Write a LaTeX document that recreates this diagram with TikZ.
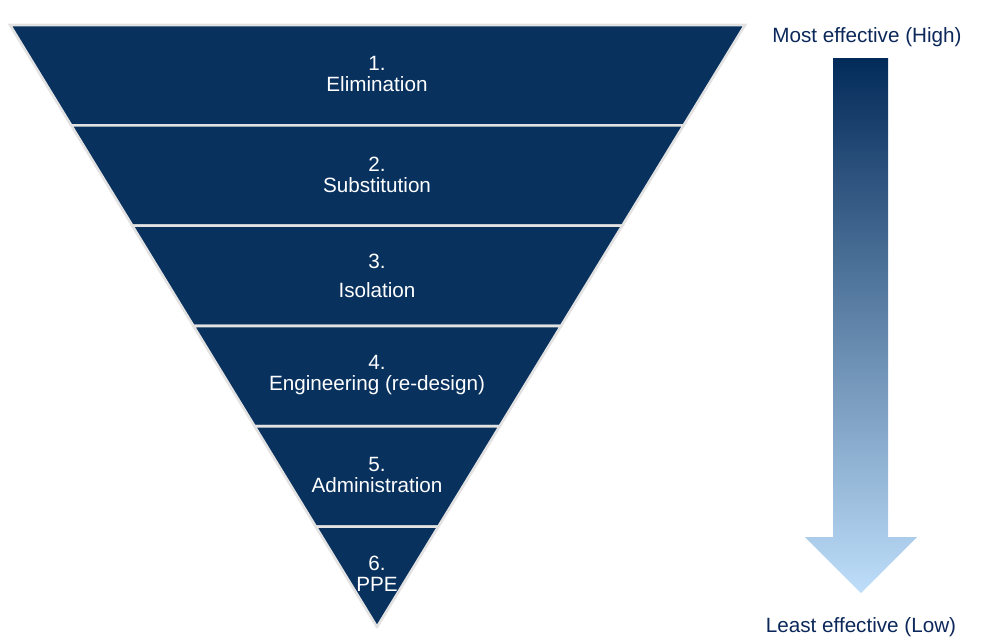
\documentclass[tikz,border=0pt]{standalone}
\usepackage{fontspec}
\setmainfont{Liberation Sans}
\definecolor{band}{RGB}{8,49,94}
\definecolor{seam}{RGB}{226,226,226}
\definecolor{navytext}{RGB}{12,40,90}
\definecolor{arrowtop}{RGB}{3,43,90}
\definecolor{arrowlow}{RGB}{190,222,250}

\begin{document}
\begin{tikzpicture}[x=0.75pt,y=-0.75pt,
    level/.style={fill=band,draw=seam,line width=2pt,line join=miter},
    levellabel/.style={text=white,align=center,font=\fontsize{15.5}{15.8}\selectfont},
    scalelabel/.style={text=navytext,font=\fontsize{15.5}{18}\selectfont}]
  \useasboundingbox (0,0) rectangle (997,640);
  \foreach \i in {0,...,5}{
    \pgfmathsetmacro{\ya}{25+100.33*\i}
    \pgfmathsetmacro{\yb}{\ya+100.33}
    \pgfmathsetmacro{\xa}{10+(\ya-25)/602*367}
    \pgfmathsetmacro{\xb}{745-(\ya-25)/602*368}
    \pgfmathsetmacro{\xc}{745-(\yb-25)/602*368}
    \pgfmathsetmacro{\xd}{10+(\yb-25)/602*367}
    \path[level] (\xa,\ya) -- (\xb,\ya) -- (\xc,\yb) -- (\xd,\yb) -- cycle;
  }
  \node[levellabel] (elim) at (377,74) {1.\\Elimination};
  \node[levellabel] (subst) at (377,175) {2.\\Substitution};
  \node[levellabel] (isol) at (377,276) {3.\\[6.5pt]Isolation};
  \node[levellabel] (engin) at (377,375) {4.\\Engineering (re-design)};
  \node[levellabel] (admin) at (377,475) {5.\\Administration};
  \node[levellabel] (ppe) at (377,574) {6.\\PPE};

  \shade[top color=arrowtop,bottom color=arrowlow]
    (833,58) -- (888,58) -- (888,537) -- (917,537) -- (861,593)
    -- (805,537) -- (833,537) -- cycle;
  \node[scalelabel] (most) at (867,37) {Most effective (High)};
  \node[scalelabel] (least) at (861,627) {Least effective (Low)};
\end{tikzpicture}
\end{document}
